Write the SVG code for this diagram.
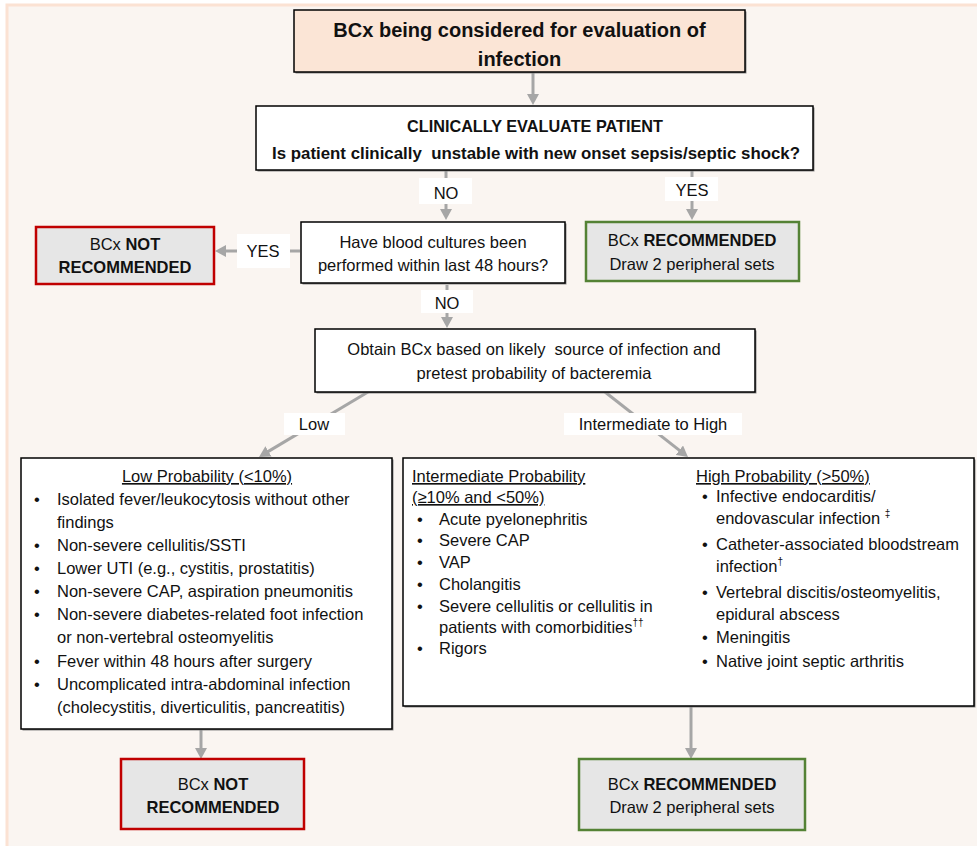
<svg xmlns="http://www.w3.org/2000/svg" width="977" height="846" viewBox="0 0 977 846">
<style>
.t{font-family:'Liberation Sans',Arial,sans-serif;font-size:16.5px;fill:#111}
.b{font-weight:bold}
.c{text-anchor:middle}
.u{text-decoration:underline}
.box{fill:#fff;stroke:#000;stroke-width:1.5}
.sh{fill:#8a8a8a}
.peach{fill:#fbe5d6;stroke:#000;stroke-width:1.5}
.red{fill:#e6e6e6;stroke:#c00000;stroke-width:2.5}
.green{fill:#e6e6e6;stroke:#548235;stroke-width:2.5}
.lbl{fill:#fff}
.conn{stroke:#a6a6a6;stroke-width:3;fill:none;marker-end:url(#ah)}
</style>
<defs>
<marker id="ah" markerUnits="userSpaceOnUse" markerWidth="12" markerHeight="12" refX="3" refY="6" orient="auto">
<path d="M0,0 L11,6 L0,12 z" fill="#a6a6a6"/>
</marker>
</defs>
<rect x="0" y="0" width="977" height="846" fill="#fff"/>
<rect x="7" y="5" width="985" height="860" fill="#faf5f1" stroke="#fbe2d3" stroke-width="3"/>

<g id="connectors">
<line class="conn" x1="533" y1="72" x2="533" y2="97"/>
<line class="conn" x1="446" y1="170" x2="446" y2="212"/>
<line class="conn" x1="692" y1="170" x2="692" y2="212"/>
<line class="conn" x1="300" y1="251" x2="223" y2="251"/>
<line class="conn" x1="447" y1="285" x2="447" y2="320"/>
<line class="conn" x1="368" y1="392" x2="265.9" y2="452.9"/>
<line class="conn" x1="605" y1="392" x2="681.7" y2="452.1"/>
<line class="conn" x1="201" y1="730" x2="201" y2="751"/>
<line class="conn" x1="691" y1="706" x2="691" y2="751"/>
<g id="lbl-no1"><rect class="lbl" x="419" y="178" width="53" height="26"/><text class="t c" x="446" y="199">NO</text></g>
<g id="lbl-yes1"><rect class="lbl" x="665" y="177" width="53" height="24"/><text class="t c" x="692" y="196">YES</text></g>
<g id="lbl-yes2"><rect class="lbl" x="237" y="234" width="53" height="34"/><text class="t c" x="263" y="257">YES</text></g>
<g id="lbl-no2"><rect class="lbl" x="421" y="290" width="52" height="23"/><text class="t c" x="447" y="309">NO</text></g>
<g id="lbl-low"><rect class="lbl" x="284" y="413" width="61" height="22"/><text class="t c" x="314" y="430">Low</text></g>
<g id="lbl-ih"><rect class="lbl" x="564" y="413" width="178" height="22"/><text class="t c" x="653" y="430">Intermediate to High</text></g>
</g>

<g id="start">
<rect class="sh" x="295.5" y="11.5" width="451" height="62"/>
<rect class="peach" x="294" y="10" width="451" height="62"/>
<text class="t b c" style="font-size:20px" x="519.5" y="37">BCx being considered for evaluation of</text>
<text class="t b c" style="font-size:20px" x="519.5" y="66">infection</text>
</g>

<g id="evaluate">
<rect class="sh" x="257.5" y="107.5" width="557" height="64"/>
<rect class="box" x="256" y="106" width="557" height="64"/>
<text class="t b c" style="font-size:17px" x="535" y="132" textLength="256" lengthAdjust="spacingAndGlyphs">CLINICALLY EVALUATE PATIENT</text>
<text class="t b c" style="font-size:17px" xml:space="preserve" x="536" y="159" textLength="528" lengthAdjust="spacingAndGlyphs">Is patient clinically  unstable with new onset sepsis/septic shock?</text>
</g>

<g id="prior-cultures">
<rect class="sh" x="302.5" y="223.5" width="264" height="61"/>
<rect class="box" x="301" y="222" width="264" height="61"/>
<text class="t c" x="433" y="248">Have blood cultures been</text>
<text class="t c" x="433" y="271">performed within last 48 hours?</text>
</g>

<g id="not-rec-1">
<rect class="red" x="36" y="227" width="178" height="57"/>
<text class="t c" x="125" y="250">BCx <tspan class="b">NOT</tspan></text>
<text class="t b c" x="125" y="273">RECOMMENDED</text>
</g>

<g id="rec-1">
<rect class="green" x="586" y="222" width="213" height="59"/>
<text class="t c" x="692" y="246">BCx <tspan class="b">RECOMMENDED</tspan></text>
<text class="t c" x="692" y="270">Draw 2 peripheral sets</text>
</g>

<g id="obtain">
<rect class="sh" x="316.5" y="330.5" width="440" height="63"/>
<rect class="box" x="315" y="329" width="440" height="63"/>
<text class="t c" xml:space="preserve" x="534" y="355">Obtain BCx based on likely  source of infection and</text>
<text class="t c" x="534" y="379">pretest probability of bacteremia</text>
</g>

<g id="low-prob">
<rect class="sh" x="22.5" y="459.5" width="371" height="271"/>
<rect class="box" x="21" y="458" width="371" height="271"/>
<text class="t c u" x="207" y="482">Low Probability (&lt;10%)</text>
<text class="t" x="34" y="505">•</text><text class="t" x="57" y="505">Isolated fever/leukocytosis without other</text>
<text class="t" x="57" y="528">findings</text>
<text class="t" x="34" y="551">•</text><text class="t" x="57" y="551">Non-severe cellulitis/SSTI</text>
<text class="t" x="34" y="574">•</text><text class="t" x="57" y="574">Lower UTI (e.g., cystitis, prostatitis)</text>
<text class="t" x="34" y="597">•</text><text class="t" x="57" y="597">Non-severe CAP, aspiration pneumonitis</text>
<text class="t" x="34" y="620">•</text><text class="t" x="57" y="620">Non-severe diabetes-related foot infection</text>
<text class="t" x="57" y="643">or non-vertebral osteomyelitis</text>
<text class="t" x="34" y="667">•</text><text class="t" x="57" y="667">Fever within 48 hours after surgery</text>
<text class="t" x="34" y="690">•</text><text class="t" x="57" y="690">Uncomplicated intra-abdominal infection</text>
<text class="t" x="57" y="713">(cholecystitis, diverticulitis, pancreatitis)</text>
</g>

<g id="int-high-prob">
<rect class="sh" x="404.5" y="459.5" width="571" height="248"/>
<rect class="box" x="403" y="458" width="571" height="248"/>
<text class="t u" x="412" y="482">Intermediate Probability</text>
<text class="t u" x="412" y="503">(≥10% and &lt;50%)</text>
<text class="t" x="417" y="525">•</text><text class="t" x="439" y="525">Acute pyelonephritis</text>
<text class="t" x="417" y="546">•</text><text class="t" x="439" y="546">Severe CAP</text>
<text class="t" x="417" y="568">•</text><text class="t" x="439" y="568">VAP</text>
<text class="t" x="417" y="590">•</text><text class="t" x="439" y="590">Cholangitis</text>
<text class="t" x="417" y="612">•</text><text class="t" x="439" y="612">Severe cellulitis or cellulitis in</text>
<text class="t" x="439" y="633">patients with comorbidities<tspan dy="-7" style="font-size:10px">††</tspan></text>
<text class="t" x="417" y="654">•</text><text class="t" x="439" y="654">Rigors</text>

<text class="t u" x="696" y="482">High Probability (&gt;50%)</text>
<text class="t" x="702" y="502">•</text><text class="t" x="716" y="502">Infective endocarditis/</text>
<text class="t" x="716" y="524">endovascular infection <tspan dy="-7" style="font-size:10px">‡</tspan></text>
<text class="t" x="702" y="550">•</text><text class="t" x="716" y="550">Catheter-associated bloodstream</text>
<text class="t" x="716" y="572">infection<tspan dy="-7" style="font-size:10px">†</tspan></text>
<text class="t" x="702" y="598">•</text><text class="t" x="716" y="598">Vertebral discitis/osteomyelitis,</text>
<text class="t" x="716" y="620">epidural abscess</text>
<text class="t" x="702" y="643">•</text><text class="t" x="716" y="643">Meningitis</text>
<text class="t" x="702" y="667">•</text><text class="t" x="716" y="667">Native joint septic arthritis</text>
</g>

<g id="not-rec-2">
<rect class="red" x="121" y="759" width="183" height="70"/>
<text class="t c" x="213" y="790">BCx <tspan class="b">NOT</tspan></text>
<text class="t b c" x="213" y="813">RECOMMENDED</text>
</g>

<g id="rec-2">
<rect class="green" x="579" y="759" width="226" height="71"/>
<text class="t c" x="692" y="790">BCx <tspan class="b">RECOMMENDED</tspan></text>
<text class="t c" x="692" y="813">Draw 2 peripheral sets</text>
</g>
</svg>
